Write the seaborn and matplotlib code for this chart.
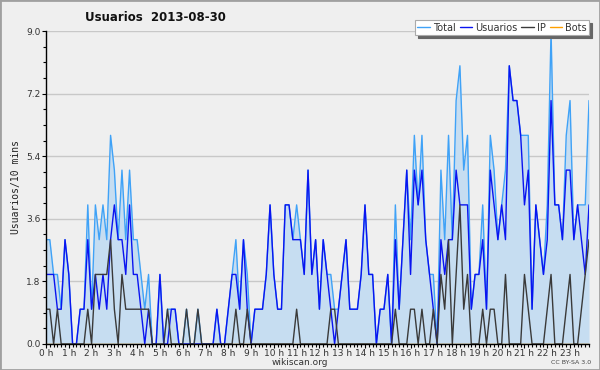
import numpy as np
import pandas as pd
import matplotlib
matplotlib.use("Agg")
import matplotlib.pyplot as plt
import seaborn as sns
from matplotlib.patches import Rectangle

# one value per 10 minutes, 00:00 .. 23:50
total = [3, 3, 2, 2, 1, 3, 2, 0, 0, 1, 1, 4, 1, 4, 3, 4, 3, 6, 5, 3, 5, 3, 5, 3,
         3, 2, 1, 2, 0, 0, 2, 0, 1, 1, 1, 0, 0, 1, 0, 0, 1, 0, 0, 0, 0, 1, 0, 0,
         1, 2, 3, 1, 3, 2, 0, 1, 1, 1, 2, 4, 2, 1, 1, 4, 4, 3, 4, 3, 2, 5, 2, 3,
         1, 3, 2, 2, 1, 1, 2, 3, 1, 1, 1, 2, 4, 2, 2, 0, 1, 1, 2, 0, 4, 1, 3, 5,
         3, 6, 4, 6, 3, 2, 2, 0, 5, 3, 6, 3, 7, 8, 5, 6, 1, 2, 2, 4, 1, 6, 5, 3,
         4, 5, 8, 7, 7, 6, 6, 6, 1, 4, 3, 2, 4, 9, 4, 4, 3, 6, 7, 3, 4, 4, 4, 7]
usuarios = [2, 2, 2, 1, 1, 3, 2, 0, 0, 1, 1, 3, 1, 2, 1, 2, 1, 3, 4, 3, 3, 2, 4, 2,
            2, 1, 0, 1, 0, 0, 2, 0, 0, 1, 1, 0, 0, 0, 0, 0, 0, 0, 0, 0, 0, 1, 0, 0,
            1, 2, 2, 1, 3, 1, 0, 1, 1, 1, 2, 4, 2, 1, 1, 4, 4, 3, 3, 3, 2, 5, 2, 3,
            1, 3, 2, 1, 0, 1, 2, 3, 1, 1, 1, 2, 4, 2, 2, 0, 1, 1, 2, 0, 3, 1, 3, 5,
            2, 5, 4, 5, 3, 2, 1, 0, 3, 2, 3, 3, 5, 4, 4, 4, 1, 2, 2, 3, 1, 5, 4, 3,
            4, 3, 8, 7, 7, 6, 4, 5, 1, 4, 3, 2, 3, 7, 4, 4, 3, 5, 5, 3, 4, 3, 2, 4]
ip = [1, 1, 0, 1, 0, 0, 0, 0, 0, 0, 0, 1, 0, 2, 2, 2, 2, 3, 1, 0, 2, 1, 1, 1,
      1, 1, 1, 1, 0, 0, 0, 0, 1, 0, 0, 0, 0, 1, 0, 0, 1, 0, 0, 0, 0, 0, 0, 0,
      0, 0, 1, 0, 0, 1, 0, 0, 0, 0, 0, 0, 0, 0, 0, 0, 0, 0, 1, 0, 0, 0, 0, 0,
      0, 0, 0, 1, 1, 0, 0, 0, 0, 0, 0, 0, 0, 0, 0, 0, 0, 0, 0, 0, 1, 0, 0, 0,
      1, 1, 0, 1, 0, 0, 1, 0, 2, 1, 3, 0, 2, 4, 1, 2, 0, 0, 0, 1, 0, 1, 1, 0,
      0, 2, 0, 0, 0, 0, 2, 1, 0, 0, 0, 0, 1, 2, 0, 0, 0, 1, 2, 0, 0, 1, 2, 3]
bots = [0, 0, 0, 0, 0, 0, 0, 0, 0, 0, 0, 0, 0, 0, 0, 0, 0, 0, 0, 0, 0, 0, 0, 0,
        0, 0, 0, 0, 0, 0, 0, 0, 0, 0, 0, 0, 0, 0, 0, 0, 0, 0, 0, 0, 0, 0, 0, 0,
        0, 0, 0, 0, 0, 0, 0, 0, 0, 0, 0, 0, 0, 0, 0, 0, 0, 0, 0, 0, 0, 0, 0, 0,
        0, 0, 0, 0, 0, 0, 0, 0, 0, 0, 0, 0, 0, 0, 0, 0, 0, 0, 0, 0, 0, 0, 0, 0,
        0, 0, 0, 0, 0, 0, 0, 0, 0, 0, 0, 0, 0, 0, 0, 0, 0, 0, 0, 0, 0, 0, 0, 0,
        0, 0, 0, 0, 0, 0, 0, 0, 0, 0, 0, 0, 0, 0, 0, 0, 0, 0, 0, 0, 0, 0, 0, 0]
hour_labels = ["0 h", "1 h", "2 h", "3 h", "4 h", "5 h", "6 h", "7 h", "8 h", "9 h",
               "10 h", "11 h", "12 h", "13 h", "14 h", "15 h", "16 h", "17 h",
               "18 h", "19 h", "20 h", "21 h", "22 h", "23 h"]
y_ticks = [0.0, 1.8, 3.6, 5.4, 7.2, 9.0]

df = pd.DataFrame({"slot": np.arange(len(total)), "Total": total,
                   "Usuarios": usuarios, "IP": ip, "Bots": bots})

sns.set_style("white")
bg = "#efefef"

fig = plt.figure(figsize=(6, 3.7), dpi=100, facecolor=bg)
ax = fig.add_axes([0.0767, 0.0703, 0.905, 0.8459])
ax.set_facecolor(bg)

ax.fill_between(df["slot"], df["Total"], 0, color="#c6ddf1", lw=0, zorder=1)
sns.lineplot(data=df, x="slot", y="Bots", color="#ffa000", lw=1, label="Bots", ax=ax, zorder=2)
sns.lineplot(data=df, x="slot", y="Total", color="#3fa2f7", lw=1, label="Total", ax=ax, zorder=3)
sns.lineplot(data=df, x="slot", y="Usuarios", color="#0a14f0", lw=1, label="Usuarios", ax=ax, zorder=4)
sns.lineplot(data=df, x="slot", y="IP", color="#3a3a3a", lw=1, label="IP", ax=ax, zorder=5)

ax.set_xlim(0, len(total) - 1)
ax.set_ylim(0, 9)
ax.set_yticks(y_ticks)
ax.set_yticklabels([f"{v:.1f}" for v in y_ticks])
ax.set_yticks(np.arange(0, 9.01, 0.45), minor=True)
ax.set_xticks(np.arange(0, 144, 6))
ax.set_xticklabels(hour_labels)
ax.set_xticks(np.arange(0, 144), minor=True)
ax.tick_params(which="major", direction="out", length=3, width=0.8, color="black",
               labelsize=6.5, labelcolor="#333333", pad=1)
ax.tick_params(which="minor", direction="out", length=2, width=0.8, color="black")
ax.tick_params(axis="x", which="both", bottom=True, pad=0.5)
ax.tick_params(axis="y", which="both", left=True)

ax.yaxis.grid(True, color="#c8c8c8", lw=1, zorder=0)
ax.xaxis.grid(False)
ax.set_axisbelow(True)
for side in ["top", "right"]:
    ax.spines[side].set_visible(False)
for side in ["left", "bottom"]:
    ax.spines[side].set_color("black")
    ax.spines[side].set_linewidth(1)
    ax.spines[side].set_zorder(6)

ax.set_xlabel("")
ax.set_ylabel("Usuarios/10 mins", family="DejaVu Sans Mono", fontsize=7, color="#222222", labelpad=4)

handles, labels = ax.get_legend_handles_labels()
order = [labels.index(n) for n in ["Total", "Usuarios", "IP", "Bots"]]
leg = ax.legend([handles[k] for k in order], [labels[k] for k in order],
                ncol=4, loc="upper right", bbox_to_anchor=(0.982, 0.945),
                bbox_transform=fig.transFigure, fontsize=7, frameon=True,
                fancybox=False, shadow={"color": "#666666", "alpha": 1},
                handlelength=1.3, handletextpad=0.3, columnspacing=0.4,
                borderpad=0.25, borderaxespad=0)
leg.get_frame().set_facecolor("white")
leg.get_frame().set_edgecolor("#aaaaaa")
leg.get_frame().set_linewidth(0.8)
for t in leg.get_texts():
    t.set_color("#333333")

fig.text(0.142, 0.952, "Usuarios  2013-08-30", fontsize=8.5, weight="bold",
         color="#111111", va="center", ha="left")
fig.text(0.5, 0.02, "wikiscan.org", fontsize=6.5, color="#333333", ha="center", va="center")
fig.text(0.985, 0.02, "CC BY-SA 3.0", fontsize=4.5, color="#444444", ha="right", va="center")
fig.patches.append(Rectangle((0, 0), 1, 1, transform=fig.transFigure, fill=False,
                             edgecolor="#a0a0a0", lw=2))

fig.savefig("out.png", dpi=100, facecolor=bg)
